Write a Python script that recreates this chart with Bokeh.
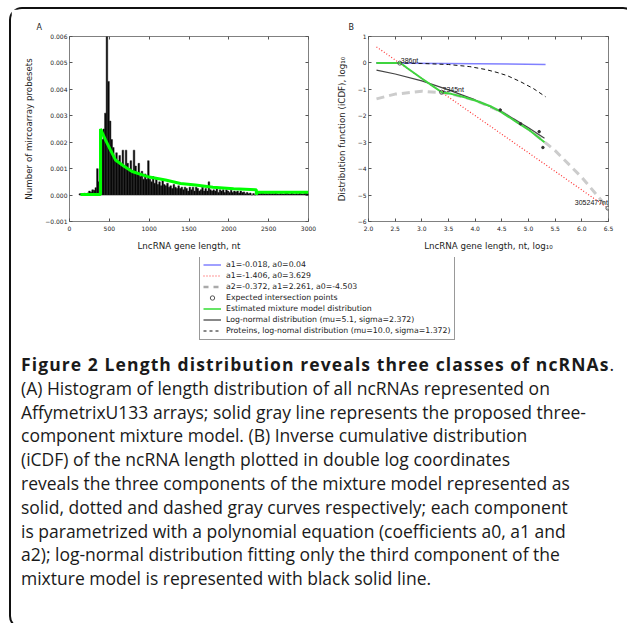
from bokeh.plotting import figure
from bokeh.models import Range1d, FixedTicker, LinearAxis, Legend, LegendItem, Div, Spacer
from bokeh.layouts import row, column
from bokeh.embed import file_html
from bokeh.resources import INLINE
import numpy as np

# ---------------- Panel A data ----------------
hist_start = 120
hist_width = 20
hist_values = [
    0.5e-4, 0.6e-4, 0.5e-4, 0.7e-4, 0.6e-4, 0.8e-4, 1.5e-4, 1.2e-4, 2.0e-4, 1.8e-4,
    2.8e-4, 10e-4, 5e-4, 17e-4, 21e-4, 25e-4, 31e-4, 60e-4, 43e-4, 28e-4,
    21e-4, 18e-4, 14e-4, 16e-4, 13e-4, 15e-4, 12e-4, 17e-4, 11e-4, 17e-4,
    12e-4, 10e-4, 13e-4, 9e-4, 17e-4, 11e-4, 8e-4, 12e-4, 7e-4, 9e-4,
    6e-4, 8e-4, 6e-4, 13e-4, 6e-4, 5e-4, 7e-4, 4.5e-4, 6e-4, 4e-4,
    5e-4, 3.5e-4, 6e-4, 4e-4, 3.5e-4, 4.5e-4, 3e-4, 3.5e-4, 2.5e-4, 4e-4,
    3e-4, 2.5e-4, 3.5e-4, 2.5e-4, 3e-4, 2e-4, 3e-4, 2.5e-4, 1.5e-4, 3e-4,
    2e-4, 3e-4, 1.5e-4, 3e-4, 2.5e-4, 1.5e-4, 2e-4, 3e-4, 1.5e-4, 2.5e-4,
    1.5e-4, 5e-4, 2e-4, 1.5e-4, 2e-4, 1.5e-4, 2.5e-4, 1e-4, 2e-4, 1.5e-4,
    2e-4, 1e-4, 2e-4, 1.5e-4, 1e-4, 1.8e-4, 1e-4, 1.5e-4, 1.2e-4, 1.5e-4,
    0.8e-4, 1.5e-4, 1e-4, 1.2e-4, 0.5e-4, 1e-4, 0.5e-4, 0.8e-4, 0.0, 0.6e-4,
    0.0, 0.4e-4, 0.8e-4, 0.5e-4, 0.8e-4, 1.2e-4, 0.5e-4, 0.6e-4, 0.5e-4, 0.7e-4,
    0.5e-4, 0.6e-4, 0.5e-4, 1.2e-4, 0.5e-4, 0.4e-4, 0.6e-4, 0.5e-4, 0.4e-4, 0.6e-4,
    0.8e-4, 0.5e-4, 0.4e-4, 1.2e-4, 0.5e-4, 0.4e-4, 0.6e-4, 0.4e-4, 0.8e-4, 0.5e-4,
    0.4e-4, 0.6e-4, 1.2e-4, 0.5e-4,
]
mixA_x = [138, 389, 389, 450, 515, 577, 680, 786, 1000, 1205, 1393, 1581, 1800, 2060, 2345, 2345, 2362, 3000]
mixA_y = [0.00002, 0.00002, 0.0025, 0.0021, 0.0017, 0.00133, 0.0011, 0.00089, 0.00068, 0.00057,
          0.00044, 0.00038, 0.0003, 0.00024, 0.0002, 0.00002, 0.00011, 0.00011]
a_xticks = [0, 500, 1000, 1500, 2000, 2500, 3000]
a_xtick_labels = ["0", "500", "1000", "1500", "2000", "2500", "3000"]
a_yticks = [-0.001, 0.0, 0.001, 0.002, 0.003, 0.004, 0.005, 0.006]
a_ytick_labels = ["\u22120.001", "0.000", "0.001", "0.002", "0.003", "0.004", "0.005", "0.006"]

# ---------------- Panel B data ----------------
b_xticks = [2.0, 2.5, 3.0, 3.5, 4.0, 4.5, 5.0, 5.5, 6.0, 6.5]
b_xtick_labels = ["2.0", "2.5", "3.0", "3.5", "4.0", "4.5", "5.0", "5.5", "6.0", "6.5"]
b_yticks = [-6, -5, -4, -3, -2, -1, 0, 1]
b_ytick_labels = ["\u22126", "\u22125", "\u22124", "\u22123", "\u22122", "\u22121", "0", "1"]

blue_x = [2.15, 5.32]
blue_y = [0.001, -0.056]
red_x = [2.15, 6.45]
red_y = [0.606, -5.44]
gray_x = [2.15, 2.5, 3.0, 3.5, 4.0, 4.5, 5.0, 5.5, 6.0, 6.5]
gray_y = [-1.36, -1.18, -1.07, -1.15, -1.41, -1.86, -2.50, -3.32, -4.33, -5.52]
lognorm_x = [2.15, 2.5, 3.0, 3.5, 4.0, 4.5, 5.0, 5.3]
lognorm_y = [-0.27, -0.42, -0.68, -1.02, -1.40, -1.85, -2.45, -2.85]
prot_x = [2.15, 2.6, 3.0, 3.5, 3.9, 4.2, 4.41, 4.6, 4.85, 5.1, 5.32]
prot_y = [0.0, -0.005, -0.02, -0.06, -0.14, -0.25, -0.36, -0.48, -0.71, -0.98, -1.28]
mixB_x = [2.15, 2.6, 2.73, 3.0, 3.2, 3.38, 3.55, 3.8, 4.0, 4.3, 4.5, 4.8, 5.0, 5.3]
mixB_y = [0.0, 0.0, -0.2, -0.59, -0.87, -1.12, -1.17, -1.3, -1.42, -1.65, -1.87, -2.27, -2.52, -3.0]
emp_x = [4.47, 4.85, 5.2, 5.27]
emp_y = [-1.78, -2.3, -2.6, -3.2]
inter_x = [2.586, 3.369, 6.489]
inter_y = [-0.007, -1.108, -5.495]
inter_labels = ["386nt", "2345nt", "3052477nt"]

legend_labels = [
    "a1=-0.018, a0=0.04",
    "a1=-1.406, a0=3.629",
    "a2=-0.372, a1=2.261, a0=-4.503",
    "Expected intersection points",
    "Estimated mixture model distribution",
    "Log-normal distribution (mu=5.1, sigma=2.372)",
    "Proteins, log-nomal distribution (mu=10.0, sigma=1.372)",
]

caption_title = "Figure 2 Length distribution reveals three classes of ncRNAs"
caption_lines = [
    "(A) Histogram of length distribution of all ncRNAs represented on",
    "AffymetrixU133 arrays; solid gray line represents the proposed three-",
    "component mixture model. (B) Inverse cumulative distribution",
    "(iCDF) of the ncRNA length plotted in double log coordinates",
    "reveals the three components of the mixture model represented as",
    "solid, dotted and dashed gray curves respectively; each component",
    "is parametrized with a polynomial equation (coefficients a0, a1 and",
    "a2); log-normal distribution fitting only the third component of the",
    "mixture model is represented with black solid line.",
]

FONT = "DejaVu Sans"
TXT = "#222222"


def style_axes(p, xticks, xlabels, yticks, ylabels, xlab, ylab, panel, title_offset):
    p.xgrid.visible = False
    p.ygrid.visible = False
    p.outline_line_color = "#808080"
    p.outline_line_width = 1
    p.xaxis.ticker = FixedTicker(ticks=xticks)
    p.yaxis.ticker = FixedTicker(ticks=yticks)
    p.xaxis.major_label_overrides = {t: l for t, l in zip(xticks, xlabels)}
    p.yaxis.major_label_overrides = {t: l for t, l in zip(yticks, ylabels)}
    p.xaxis.axis_label = xlab
    p.yaxis.axis_label = ylab
    for ax in (p.xaxis[0], p.yaxis[0]):
        ax.axis_line_color = None
        ax.major_tick_in = 3
        ax.major_tick_out = 0
        ax.major_tick_line_color = "#555555"
        ax.minor_tick_line_color = None
        ax.major_label_text_font = FONT
        ax.major_label_text_font_size = "6px"
        ax.major_label_text_color = TXT
        ax.axis_label_text_font = FONT
        ax.axis_label_text_font_size = "8.7px"
        ax.axis_label_text_font_style = "normal"
        ax.axis_label_text_color = TXT
    p.xaxis[0].major_label_standoff = 4
    p.yaxis[0].major_label_standoff = 2
    p.xaxis[0].axis_label_standoff = 7
    p.yaxis[0].axis_label_standoff = 8
    for loc, ticks in (("above", xticks), ("right", yticks)):
        extra = LinearAxis(ticker=FixedTicker(ticks=ticks), axis_line_color=None,
                           major_tick_in=3, major_tick_out=0, major_tick_line_color="#555555",
                           minor_tick_line_color=None, major_label_text_font_size="1px",
                           major_label_text_color=None, major_label_standoff=0)
        p.add_layout(extra, loc)
    p.title.text = panel
    p.title.align = "left"
    p.title.offset = title_offset
    p.title.standoff = 10
    p.title.text_font = FONT
    p.title.text_font_size = "8px"
    p.title.text_font_style = "normal"
    p.title.text_color = TXT


# ---------------- Panel A ----------------
pA = figure(width=311, height=248, x_range=Range1d(0, 3000), y_range=Range1d(-0.001, 0.006),
            output_backend="svg", toolbar_location=None,
            min_border_left=58, min_border_right=14, min_border_top=27, min_border_bottom=36)
edges = hist_start + hist_width * np.arange(len(hist_values) + 1)
pA.quad(left=edges[:-1], right=edges[1:], bottom=0, top=hist_values,
        fill_color="black", line_color="#222222", line_width=0.5)
pA.line(mixA_x, mixA_y, color="#00ff00", line_width=3)
style_axes(pA, a_xticks, a_xtick_labels, a_yticks, a_ytick_labels,
           "LncRNA gene length, nt", "Number of mircoarray probesets", "A", -33)

# ---------------- Panel B ----------------
pB = figure(width=302, height=248, x_range=Range1d(2.0, 6.5), y_range=Range1d(-6, 1),
            output_backend="svg", toolbar_location=None,
            min_border_left=46, min_border_right=16, min_border_top=27, min_border_bottom=36)
pB.line(gray_x, gray_y, color="#cccccc", line_width=3, line_dash="8 5")
pB.line(red_x, red_y, color="#ff3333", line_width=1.2, line_dash="1 2")
pB.line(blue_x, blue_y, color="#8080ff", line_width=1.5)
pB.line(prot_x, prot_y, color="#111111", line_width=1, line_dash="4 3")
pB.line(lognorm_x, lognorm_y, color="#444444", line_width=1.2)
pB.line(mixB_x, mixB_y, color="#3fd43f", line_width=2)
pB.scatter(emp_x, emp_y, marker="circle", size=2.5, color="#333333")
pB.scatter(inter_x, inter_y, marker="circle", size=4, fill_color=None, line_color="#555555")
pB.text(inter_x[:2], inter_y[:2], text=inter_labels[:2], text_font_size="7px",
        text_align="left", text_baseline="bottom", x_offset=1, y_offset=1, text_color="#111111")
pB.text(inter_x[2:], inter_y[2:], text=inter_labels[2:], text_font_size="7px",
        text_align="right", text_baseline="bottom", x_offset=0, y_offset=-2, text_color="#111111")
style_axes(pB, b_xticks, b_xtick_labels, b_yticks, b_ytick_labels,
           "LncRNA gene length, nt, log\u2081\u2080", "Distribution function (iCDF), log\u2081\u2080",
           "B", -20)

# ---------------- Legend ----------------
pL = figure(width=613, height=85, output_backend="svg", toolbar_location=None,
            x_axis_location=None, y_axis_location=None, min_border=0,
            x_range=Range1d(0, 1), y_range=Range1d(0, 1))
pL.grid.visible = False
pL.outline_line_color = None
hidden = [-5, -4]   # legend-only renderers, kept outside the visible range
l1 = pL.line(hidden, hidden, color="#8080ff", line_width=1.5)
l2 = pL.line(hidden, hidden, color="#ff3333", line_width=1.2, line_dash="1 2")
l3 = pL.line(hidden, hidden, color="#aaaaaa", line_width=2.5, line_dash="5 5")
l4 = pL.scatter(hidden, hidden, marker="circle", size=4, fill_color=None, line_color="#555555")
l5 = pL.line(hidden, hidden, color="#33dd33", line_width=1.5)
l6 = pL.line(hidden, hidden, color="#888888", line_width=2)
l7 = pL.line(hidden, hidden, color="#111111", line_width=1, line_dash="3 3")
leg = Legend(items=[LegendItem(label=t, renderers=[r]) for t, r in
                    zip(legend_labels, [l1, l2, l3, l4, l5, l6, l7])],
             location=(188, 2), orientation="vertical",
             label_text_font=FONT, label_text_font_size="7.8px", label_text_color=TXT,
             glyph_width=18, glyph_height=11, label_height=11, label_standoff=5,
             padding=3, spacing=0, margin=0,
             border_line_color="#333333", border_line_width=1, background_fill_color="white")
pL.add_layout(leg)

# ---------------- Caption ----------------
html = ("<div style=\"font-family:'Open Sans'; font-size:17.5px; line-height:23.8px; color:#1a1a1a;"
        " padding:6px 0 0 5px; white-space:nowrap;\">"
        "<b style=\"letter-spacing:1.1px\">" + caption_title + "</b>.<br>"
        + "<br>".join(caption_lines) + "</div>")
cap = Div(text=html, width=613, height=275)

# rounded page frame round the whole figure; a spacer gives the gap above it
framed = column(row(pA, pB), pL, cap,
                styles={"border": "2px solid #111111", "border-radius": "13px"})
layout = column(Spacer(width=10, height=7), framed, margin=(0, 0, 0, 9))

open("out.html", "w").write(file_html(layout, INLINE))
